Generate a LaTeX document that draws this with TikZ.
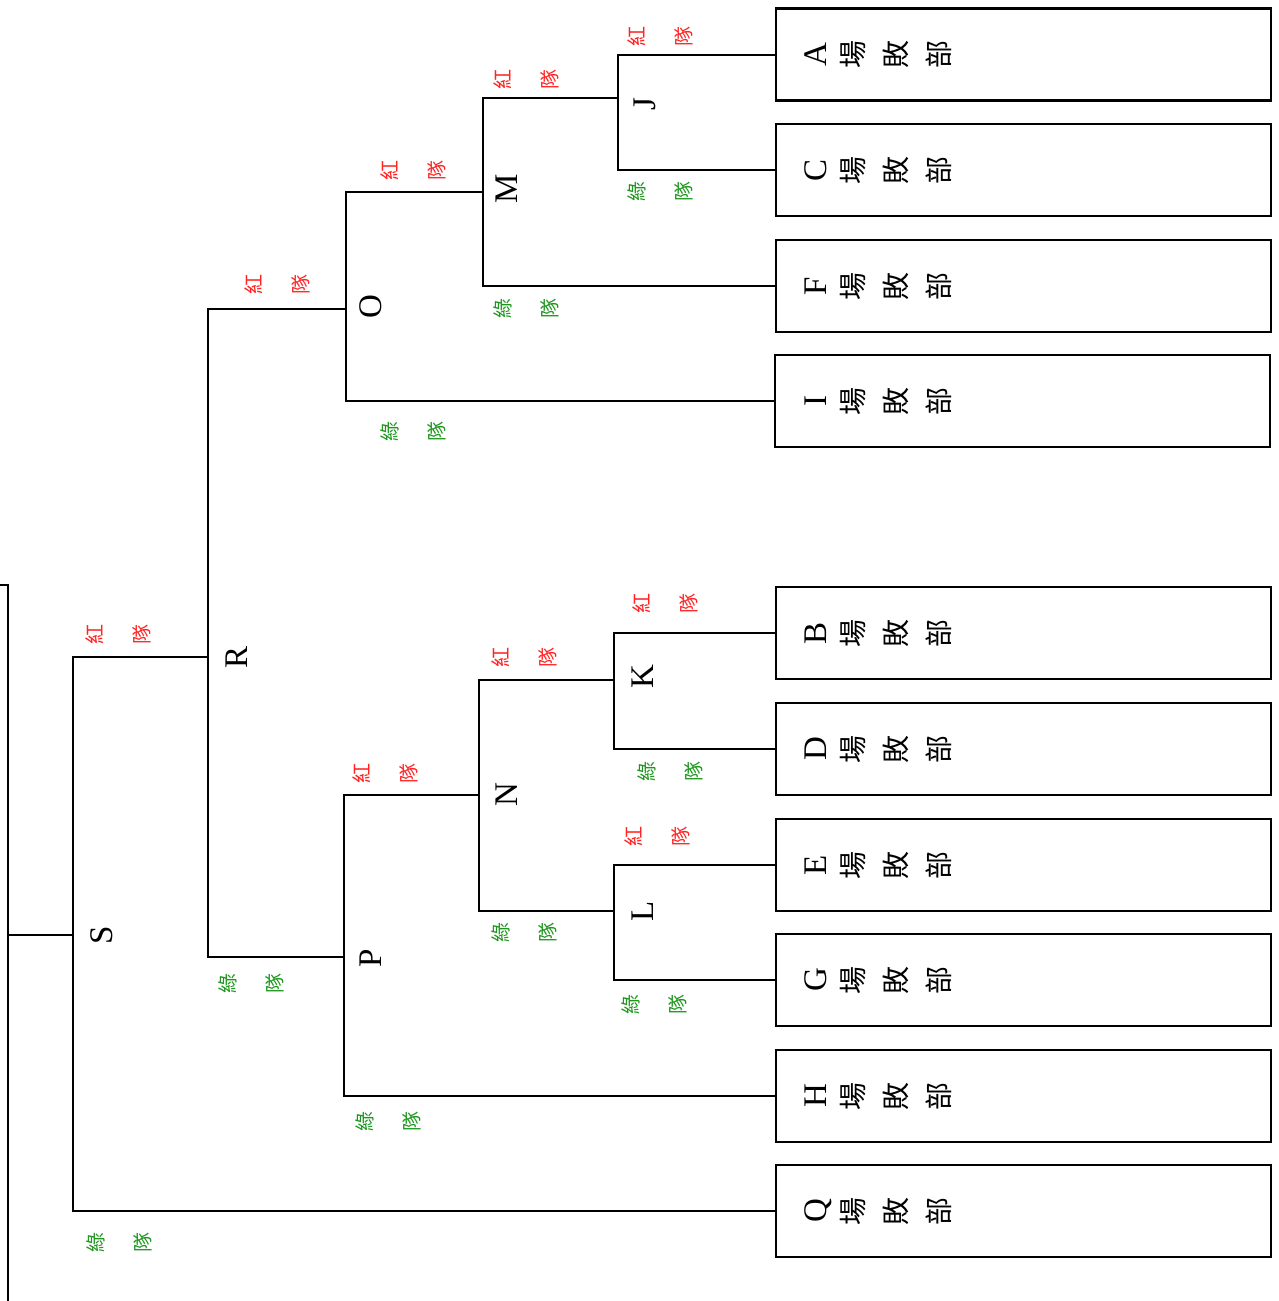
\documentclass[tikz,border=0pt]{standalone}
\usepackage{fontspec}
\setmainfont{Liberation Serif}
\newfontfamily\cjk{Noto Sans CJK TC}
\newfontfamily\latin{Liberation Serif}
\usetikzlibrary{positioning}
\definecolor{redteam}{RGB}{255,35,35}
\definecolor{greenteam}{RGB}{30,150,30}

\newcommand{\losttag}[1]{{\latin\fontsize{33}{43}\selectfont #1}\\[-6pt]場\\敗\\部}

\tikzset{
  loser/.style={draw, line width=2.2pt, rectangle, minimum width=495pt, minimum height=92pt, outer sep=0pt, inner sep=0pt, anchor=west},
  losertext/.style={rotate=90, align=center, inner sep=0pt, font=\cjk\fontsize{28}{43}\selectfont},
  winner/.style={rotate=90, inner sep=0pt, font=\fontsize{33}{36}\selectfont},
  redlabel/.style={rotate=90, align=center, inner sep=0pt, text=redteam, font=\cjk\fontsize{20}{47}\selectfont},
  greenlabel/.style={redlabel, text=greenteam},
  bracket/.style={line width=2pt}
}

\begin{document}
\begin{tikzpicture}[x=1pt, y=-1pt]
\useasboundingbox (0,0) rectangle (1279,1301);

% loser boxes
\node[loser] (bA) at (776,54.5) {};
\node[loser] (bC) at (776,170) {};
\node[loser] (bF) at (776,286) {};
\node[loser] (bI) at (775,401) {};
\node[loser] (bB) at (776,633) {};
\node[loser] (bD) at (776,749) {};
\node[loser] (bE) at (776,865) {};
\node[loser] (bG) at (776,980) {};
\node[loser] (bH) at (776,1096) {};
\node[loser] (bQ) at (776,1211) {};

\node[losertext] (tA) at ([xshift=102pt]bA.west) {\losttag{A}};
\node[losertext] (tC) at ([xshift=102pt]bC.west) {\losttag{C}};
\node[losertext] (tF) at ([xshift=102pt]bF.west) {\losttag{F}};
\node[losertext] (tI) at ([xshift=103pt]bI.west) {\losttag{I}};
\node[losertext] (tB) at ([xshift=102pt]bB.west) {\losttag{B}};
\node[losertext] (tD) at ([xshift=102pt]bD.west) {\losttag{D}};
\node[losertext] (tE) at ([xshift=102pt]bE.west) {\losttag{E}};
\node[losertext] (tG) at ([xshift=102pt]bG.west) {\losttag{G}};
\node[losertext] (tH) at ([xshift=102pt]bH.west) {\losttag{H}};
\node[losertext] (tQ) at ([xshift=102pt]bQ.west) {\losttag{Q}};

% bracket junctions
\coordinate (jJ) at (618,98);
\coordinate (jM) at (483,192);
\coordinate (jO) at (346,309);
\coordinate (jR) at (208,657);
\coordinate (jK) at (614,680);
\coordinate (jL) at (614,911);
\coordinate (jN) at (479,795);
\coordinate (jP) at (344,957);
\coordinate (jS) at (73,935);
\coordinate (jW) at (8,935);
\coordinate (wTop) at (0,585);
\coordinate (wBot) at (8,1301);

\begin{scope}[bracket]
\draw (bA.west) -| (jJ) |- (bC.west);
\draw (jJ) -| (jM) |- (bF.west);
\draw (jM) -| (jO) |- (bI.west);
\draw (bB.west) -| (jK) |- (bD.west);
\draw (bE.west) -| (jL) |- (bG.west);
\draw (jK) -| (jN) |- (jL);
\draw (jN) -| (jP) |- (bH.west);
\draw (jO) -| (jR) |- (jP);
\draw (jR) -| (jS) |- (bQ.west);
\draw (jS) -- (jW);
\draw (wTop) -| (wBot);
\end{scope}

% match letters
\node[winner] (lJ) at (645,104) {J};
\node[winner] (lM) at (507,189) {M};
\node[winner] (lO) at (371,307) {O};
\node[winner] (lR) at (237,657) {R};
\node[winner] (lK) at (643,677) {K};
\node[winner] (lL) at (643,911) {L};
\node[winner] (lN) at (507,795) {N};
\node[winner] (lP) at (371,958) {P};
\node[winner] (lS) at (102,935) {S};

% team labels
\node[redlabel] (rJ) at (660,36) {紅\\隊};
\node[greenlabel] (gJ) at (660,191) {綠\\隊};
\node[redlabel] (rM) at (526,79) {紅\\隊};
\node[greenlabel] (gM) at (526,308) {綠\\隊};
\node[redlabel] (rO) at (413,170) {紅\\隊};
\node[greenlabel] (gO) at (413,431) {綠\\隊};
\node[redlabel] (rR) at (277,284) {紅\\隊};
\node[greenlabel] (gR) at (251,983) {綠\\隊};
\node[redlabel] (rS) at (118,634) {紅\\隊};
\node[greenlabel] (gS) at (119,1242) {綠\\隊};
\node[redlabel] (rP) at (385,773) {紅\\隊};
\node[greenlabel] (gP) at (388,1121) {綠\\隊};
\node[redlabel] (rN) at (524,657) {紅\\隊};
\node[greenlabel] (gN) at (524,932) {綠\\隊};
\node[redlabel] (rK) at (665,603) {紅\\隊};
\node[greenlabel] (gK) at (670,771) {綠\\隊};
\node[redlabel] (rL) at (657,836) {紅\\隊};
\node[greenlabel] (gL) at (654,1004) {綠\\隊};

\end{tikzpicture}
\end{document}
